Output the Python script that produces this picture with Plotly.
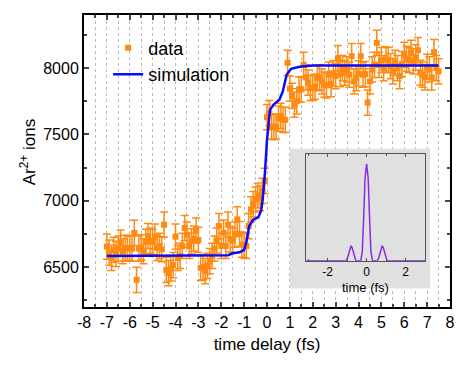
import plotly.graph_objects as go

# measured data (time delay in fs, Ar2+ ion counts)
delay = [-7.0, -6.9, -6.8, -6.7, -6.6, -6.5, -6.4, -6.3, -6.2, -6.1,
         -6.0, -5.9, -5.8, -5.7, -5.6, -5.5, -5.4, -5.3, -5.2, -5.1,
         -5.0, -4.9, -4.8, -4.7, -4.6, -4.5, -4.4, -4.3, -4.2, -4.1,
         -4.0, -3.9, -3.8, -3.7, -3.6, -3.5, -3.4, -3.3, -3.2, -3.1,
         -3.0, -2.9, -2.8, -2.7, -2.6, -2.5, -2.4, -2.3, -2.2, -2.1,
         -2.0, -1.9, -1.8, -1.7, -1.6, -1.5, -1.4, -1.3, -1.2, -1.1,
         -1.0, -0.9, -0.8, -0.7, -0.6, -0.5, -0.4, -0.3, -0.2, -0.1,
         0.0, 0.1, 0.2, 0.3, 0.4, 0.5, 0.6, 0.7, 0.8, 0.9,
         1.0, 1.1, 1.2, 1.3, 1.4, 1.5, 1.6, 1.7, 1.8, 1.9,
         2.0, 2.1, 2.2, 2.3, 2.4, 2.5, 2.6, 2.7, 2.8, 2.9,
         3.0, 3.1, 3.2, 3.3, 3.4, 3.5, 3.6, 3.7, 3.8, 3.9,
         4.0, 4.1, 4.2, 4.3, 4.4, 4.5, 4.6, 4.7, 4.8, 4.9,
         5.0, 5.1, 5.2, 5.3, 5.4, 5.5, 5.6, 5.7, 5.8, 5.9,
         6.0, 6.1, 6.2, 6.3, 6.4, 6.5, 6.6, 6.7, 6.8, 6.9,
         7.0, 7.1, 7.2, 7.3, 7.4, 7.5]
ions = [6655, 6610, 6570, 6630, 6600, 6640, 6685, 6620, 6645, 6640,
        6645, 6640, 6758, 6405, 6640, 6650, 6620, 6690, 6735, 6700,
        6690, 6730, 6645, 6660, 6635, 6820, 6480, 6455, 6490, 6515,
        6730, 6570, 6585, 6660, 6795, 6745, 6660, 6695, 6715, 6775,
        6705, 6495, 6500, 6470, 6510, 6545, 6585, 6640, 6700, 6810,
        6660, 6760, 6660, 6820, 6710, 6700, 6745, 6860, 6750, 6670,
        6665, 6660, 6810, 6935, 6975, 7010, 7040, 7020, 7075, 7150,
        7630, 7660, 7560, 7555, 7560, 7620, 7640, 7610, 7610, 8040,
        7845, 7790, 7725, 7750, 7840, 7840, 8025, 7930, 7890, 7850,
        7850, 7860, 7925, 7930, 7900, 7875, 7870, 7950, 7880, 7960,
        7940, 8075, 7955, 8000, 7965, 7990, 7950, 8090, 7900, 7925,
        7960, 8090, 7950, 7955, 7740, 7900, 7990, 8025, 8190, 8025,
        8060, 8000, 8065, 8060, 8015, 7975, 8040, 8000, 7940, 8030,
        8100, 8070, 8060, 8115, 8050, 8080, 8135, 7965, 7950, 7930,
        8010, 7990, 7930, 8120, 8000, 7975]
ion_err = [95] * len(ions)

# simulation curve
sim_t = [-7.0, -2.0, -1.7, -1.5, -1.2, -1.0, -0.9, -0.78, -0.6, -0.38,
         -0.25, -0.19, -0.09, 0.0, 0.13, 0.28, 0.54, 0.69, 0.86, 1.05,
         1.42, 2.0, 7.5]
sim_ions = [6585, 6585, 6590, 6605, 6612, 6630, 6690, 6808, 6859, 6875,
            6930, 7009, 7210, 7460, 7686, 7724, 7762, 7824, 7950, 7995,
            8010, 8020, 8020]

# inset: pulse intensity vs time
pulse_t = [-3.1, -1.05, -0.98, -0.9, -0.85, -0.8, -0.75, -0.7, -0.62, -0.55,
           -0.3, -0.22, -0.15, -0.08, 0.0, 0.08, 0.15, 0.22, 0.3,
           0.55, 0.62, 0.7, 0.75, 0.8, 0.85, 0.9, 0.98, 1.05, 3.0]
pulse_a = [0, 0, 0.03, 0.1, 0.14, 0.155, 0.14, 0.1, 0.03, 0,
           0, 0.1, 0.45, 0.85, 1.0, 0.85, 0.45, 0.1, 0,
           0, 0.03, 0.1, 0.14, 0.155, 0.14, 0.1, 0.03, 0, 0]

# tick labels
x_ticks = [-8, -7, -6, -5, -4, -3, -2, -1, 0, 1, 2, 3, 4, 5, 6, 7, 8]
x_labels = ["-8", "-7", "-6", "-5", "-4", "-3", "-2", "-1", "0", "1", "2", "3", "4", "5", "6", "7", "8"]
y_ticks = [6500, 7000, 7500, 8000]
y_labels = ["6500", "7000", "7500", "8000"]
inset_ticks = [-2, 0, 2]
inset_labels = ["-2", "0", "2"]

orange = "#ff8a12"
font = "Liberation Sans, Arial, sans-serif"

fig = go.Figure()
fig.add_trace(go.Scatter(
    x=delay, y=ions, mode="markers", name="data",
    marker=dict(symbol="square", size=6, color=orange),
    error_y=dict(type="data", array=ion_err, color=orange, thickness=1.5, width=4),
))
fig.add_trace(go.Scatter(
    x=sim_t, y=sim_ions, mode="lines", name="simulation",
    line=dict(color="#0a0aff", width=2.5),
))
fig.add_trace(go.Scatter(
    x=pulse_t, y=pulse_a, mode="lines", xaxis="x2", yaxis="y2",
    line=dict(color="#8a2be2", width=1.5), showlegend=False,
))

fig.add_shape(type="rect", xref="x", yref="y", x0=1.0, x1=7.13, y0=6340, y1=7393,
              fillcolor="#e0e0e0", line=dict(width=0), layer="between")

fig.add_annotation(text="time (fs)", xref="x2 domain", yref="y2 domain",
                   x=0.5, y=-0.245, xanchor="center", yanchor="middle",
                   showarrow=False, font=dict(size=13))
fig.add_annotation(text="Ar<sup>2+</sup> ions", xref="paper", yref="paper",
                   x=-0.153, y=0.53, xanchor="center", yanchor="middle",
                   textangle=-90, showarrow=False, font=dict(size=17))

fig.update_layout(
    width=461, height=367,
    margin=dict(l=76, r=19, t=7, b=68, autoexpand=False),
    paper_bgcolor="white", plot_bgcolor="rgba(0,0,0,0)",
    font=dict(family=font, size=16, color="black"),
    showlegend=True,
    legend=dict(x=0.066, y=0.95, xanchor="left", yanchor="top",
                bgcolor="rgba(0,0,0,0)", font=dict(size=18), tracegroupgap=0),
    xaxis=dict(
        range=[-8, 8], tickmode="array", tickvals=x_ticks, ticktext=x_labels,
        ticks="inside", ticklen=5, tickwidth=1.5, automargin=False,
        showline=True, linewidth=2, linecolor="black", mirror="allticks",
        showgrid=True, gridcolor="#bdbdbd", griddash="dot", gridwidth=1,
        zeroline=False,
        minor=dict(dtick=0.5, tick0=0, ticks="inside", ticklen=3, showgrid=True,
                   gridcolor="#bdbdbd", griddash="dot"),
        title=dict(text="time delay (fs)", font=dict(size=17), standoff=8),
        tickfont=dict(size=16),
    ),
    yaxis=dict(
        range=[6200, 8400], tickmode="array", tickvals=y_ticks, ticktext=y_labels,
        ticks="inside", ticklen=5, tickwidth=1.5, automargin=False,
        showline=True, linewidth=2, linecolor="black", mirror="allticks",
        showgrid=False, zeroline=False,
        minor=dict(dtick=250, tick0=0, ticks="inside", ticklen=3),
        tickfont=dict(size=16),
    ),
    xaxis2=dict(
        domain=[0.607, 0.932], anchor="y2", range=[-3.1, 3.0],
        tickmode="array", tickvals=inset_ticks, ticktext=inset_labels,
        ticks="inside", ticklen=3, tickcolor="#555", showline=True, linewidth=1,
        linecolor="#555", mirror="allticks", showgrid=False, zeroline=False,
        automargin=False, ticklabelstandoff=0,
        minor=dict(dtick=1, tick0=0, ticks="inside", ticklen=2, tickcolor="#555"),
        tickfont=dict(size=12),
    ),
    yaxis2=dict(
        domain=[0.158, 0.524], anchor="x2", range=[0, 1.1], showticklabels=False,
        ticks="", showline=True, linewidth=1, linecolor="#555", mirror=True,
        showgrid=False, zeroline=False, automargin=False,
    ),
)

fig.write_html("out.html")
